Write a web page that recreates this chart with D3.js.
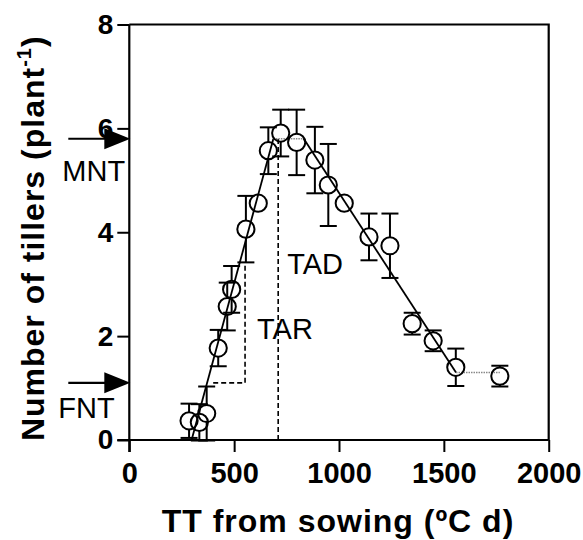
<!DOCTYPE html>
<html>
<head>
<meta charset="utf-8">
<script src="https://cdn.jsdelivr.net/npm/d3@7/dist/d3.min.js"></script>
<style>
  html, body { margin: 0; padding: 0; background: #fff; }
  svg { display: block; }
</style>
</head>
<body>
<div id="chart"></div>
<script>
// Tiller number through the season against thermal time from sowing
const thermalTime = [285, 334, 369, 424, 467, 488, 556, 615, 663, 722, 798, 885, 949, 1025, 1143, 1243, 1349, 1449, 1557, 1767];
const tillers     = [0.37, 0.34, 0.51, 1.77, 2.57, 2.90, 4.06, 4.56, 5.57, 5.91, 5.73, 5.39, 4.91, 4.56, 3.91, 3.74, 2.24, 1.91, 1.40, 1.23];
const tillersSE   = [0.33, 0.35, 0.52, 0.35, 0.46, 0.45, 0.64, 0.00, 0.45, 0.45, 0.63, 0.64, 0.79, 0.00, 0.45, 0.62, 0.21, 0.20, 0.36, 0.20];

// Piecewise fitted model: onset, maximum, plateau end, decline end, final
const fitTT      = [297, 687, 832, 1558, 1767];
const fitTillers = [0, 5.8, 5.8, 1.3, 1.3];

// Reference levels and phase markers
const maxTillers   = 5.8;   // MNT
const finalTillers = 1.1;   // FNT
const tarTT      = [400, 552, 552];
const tarTillers = [1.1, 1.1, 3.4];
const tadTT      = [710, 710];
const tadTillers = [0, 5.8];

const xTicks = [0, 500, 1000, 1500, 2000];
const yTicks = [0, 2, 4, 6, 8];

const W = 583, H = 540;
const FONT = "'Liberation Sans', Arial, Helvetica, sans-serif";

const svg = d3.select("#chart").append("svg")
  .attr("width", W).attr("height", H)
  .style("font-family", FONT);

const x = d3.scaleLinear().domain([0, 2000]).range([129.3, 548.7]);
const y = d3.scaleLinear().domain([0, 8]).range([440, 24.5]);

// Frame (top and right)
svg.append("path")
  .attr("d", `M${x(0)},${y(8)} H${x(2000)} V${y(0)}`)
  .attr("fill", "none").attr("stroke", "#000").attr("stroke-width", 2.2);

// Axes
const xAxis = svg.append("g")
  .attr("transform", `translate(0,${y(0)})`)
  .call(d3.axisBottom(x).tickValues(xTicks).tickFormat(d3.format("d"))
    .tickSize(12).tickPadding(10).tickSizeOuter(0));
const yAxis = svg.append("g")
  .attr("transform", `translate(${x(0)},0)`)
  .call(d3.axisLeft(y).tickValues(yTicks).tickFormat(d3.format("d"))
    .tickSize(12).tickPadding(4).tickSizeOuter(0));

[xAxis, yAxis].forEach(g => {
  g.select(".domain").attr("stroke-width", 2.2);
  g.selectAll(".tick line").attr("stroke-width", 2);
  g.selectAll("text").attr("fill", "#000").style("font-family", FONT).style("font-weight", "bold");
});
xAxis.selectAll("text").style("font-size", "29px");
yAxis.selectAll("text").style("font-size", "28px");
// extend the axis lines across the origin like a cross
xAxis.select(".domain").attr("d", `M${x(0) - 12},0H${x(2000)}`);
yAxis.select(".domain").attr("d", `M0,${y(8)}V${y(0) + 12}`);

// Axis titles
svg.append("text")
  .attr("x", (x(0) + x(2000)) / 2 - 1).attr("y", 532)
  .attr("text-anchor", "middle")
  .style("font-size", "32px").style("font-weight", "bold")
  .style("letter-spacing", "1px")
  .text("TT from sowing (ºC d)");

const yTitle = svg.append("text")
  .attr("transform", `translate(44,${(y(0) + y(8)) / 2 + 6}) rotate(-90)`)
  .attr("text-anchor", "middle")
  .style("font-size", "32px").style("font-weight", "bold")
  .style("letter-spacing", "1px");
yTitle.append("tspan").text("Number of tillers (plant");
yTitle.append("tspan").attr("dy", -13).style("font-size", "20px").text("-1");
yTitle.append("tspan").attr("dy", 13).text(")");

// Phase markers (dashed)
const dashLine = d3.line().x(d => x(d[0])).y(d => y(d[1]));
svg.append("path")
  .datum(d3.zip(tarTT, tarTillers))
  .attr("d", dashLine)
  .attr("fill", "none").attr("stroke", "#000").attr("stroke-width", 1.6)
  .attr("stroke-dasharray", "5,3");
svg.append("path")
  .datum(d3.zip(tadTT, tadTillers))
  .attr("d", dashLine)
  .attr("fill", "none").attr("stroke", "#000").attr("stroke-width", 1.6)
  .attr("stroke-dasharray", "5,3");

// Fitted model segments
const fitPts = d3.zip(fitTT, fitTillers);
for (let i = 0; i < fitPts.length - 1; i++) {
  const a = fitPts[i], b = fitPts[i + 1];
  const flat = a[1] === b[1];
  svg.append("line")
    .attr("x1", x(a[0])).attr("y1", y(a[1]))
    .attr("x2", x(b[0])).attr("y2", y(b[1]))
    .attr("stroke", flat ? "#888" : "#000")
    .attr("stroke-width", flat ? 1.5 : 1.8)
    .attr("stroke-dasharray", flat ? "1.5,1" : null);
}

// Observations with standard-error bars drawn outside the symbol
const R = 8.6, CAP = 8.5;
const obs = thermalTime.map((t, i) => ({ t, n: tillers[i], se: tillersSE[i] }));
const gErr = svg.append("g").attr("stroke", "#000").attr("stroke-width", 2).attr("fill", "none");
obs.forEach(d => {
  const cx = x(d.t), cy = y(d.n);
  const top = y(d.n + d.se), bot = y(d.n - d.se);
  if (cy - top > R) {
    gErr.append("line").attr("x1", cx).attr("x2", cx).attr("y1", top).attr("y2", cy - R);
    gErr.append("line").attr("x1", cx - CAP).attr("x2", cx + CAP).attr("y1", top).attr("y2", top);
    gErr.append("line").attr("x1", cx).attr("x2", cx).attr("y1", cy + R).attr("y2", bot);
    gErr.append("line").attr("x1", cx - CAP).attr("x2", cx + CAP).attr("y1", bot).attr("y2", bot);
  }
});
svg.append("g").selectAll("circle").data(obs).join("circle")
  .attr("cx", d => x(d.t)).attr("cy", d => y(d.n)).attr("r", R)
  .attr("fill", "none").attr("stroke", "#000").attr("stroke-width", 2);

// Arrows marking maximum and final tiller numbers
function arrow(level) {
  const yy = y(level), tip = x(0) + 1, len = 62, head = 26, half = 10.5;
  svg.append("line")
    .attr("x1", tip - len).attr("x2", tip - head + 2).attr("y1", yy).attr("y2", yy)
    .attr("stroke", "#000").attr("stroke-width", 2.2);
  svg.append("path")
    .attr("d", `M${tip},${yy} L${tip - head},${yy - half} L${tip - head},${yy + half} Z`)
    .attr("fill", "#000");
}
arrow(maxTillers);
arrow(finalTillers);

// Annotations
const labels = [
  { text: "MNT", x: x(0) - 67, y: y(maxTillers) + 42 },
  { text: "FNT", x: x(0) - 71, y: y(finalTillers) + 35 },
  { text: "TAR", x: x(tarTT[1]) + 12, y: y(tarTillers[0]) - 44 },
  { text: "TAD", x: x(tadTT[0]) + 9, y: y(3.2) }
];
svg.append("g").selectAll("text").data(labels).join("text")
  .attr("x", d => d.x).attr("y", d => d.y)
  .style("font-size", "29px")
  .text(d => d.text);
</script>
</body>
</html>
